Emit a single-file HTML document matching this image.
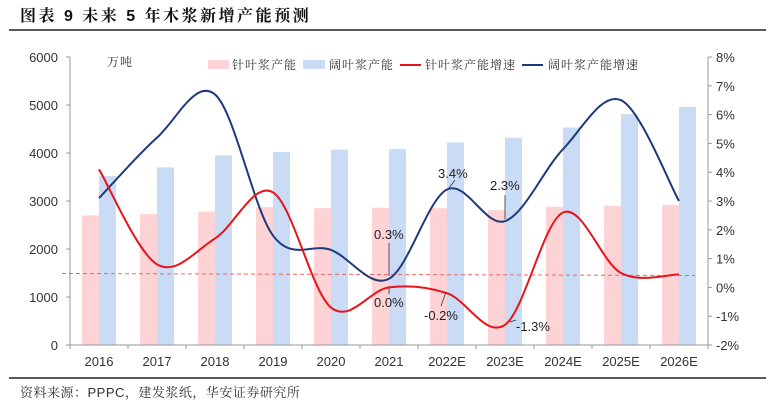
<!DOCTYPE html>
<html><head><meta charset="utf-8"><style>
body{margin:0;background:#fff;}
svg{display:block;font-family:"Liberation Sans","Noto Sans CJK SC",sans-serif;}
</style></head><body>
<svg id="s" width="776" height="408" viewBox="0 0 776 408" xmlns="http://www.w3.org/2000/svg">
<text x="20" y="21" font-size="16" font-weight="bold" letter-spacing="2.5" font-family="'Liberation Sans','Noto Serif CJK SC',serif" fill="#111">图表 9  未来 5 年木浆新增产能预测</text>
<line x1="9" y1="30" x2="766" y2="30" stroke="#222" stroke-width="1.5"/>
<line x1="9" y1="378" x2="766" y2="378" stroke="#222" stroke-width="1.5"/>
<text x="20" y="397" font-size="13" letter-spacing="0.5" fill="#333" font-family="'Liberation Sans','Noto Serif CJK SC',serif">资料来源：PPPC，建发浆纸，华安证券研究所</text>
<g id="bars"></g>
<line x1="70" y1="57" x2="70" y2="345" stroke="#999"/>
<line x1="70" y1="345" x2="708" y2="345" stroke="#999"/>
<line x1="708" y1="57" x2="708" y2="345" stroke="#999"/>
<g id="ax" font-size="13" fill="#333"></g>
<line x1="62" y1="273.5" x2="695" y2="275.5" stroke="#e86a6a" stroke-dasharray="4,3" stroke-width="1"/>
<path id="blue" fill="none" stroke="#1f3a7a" stroke-width="2"/>
<path id="red" fill="none" stroke="#e8141b" stroke-width="2"/>
<g font-size="12" fill="#333" letter-spacing="1" font-family="'Noto Serif CJK SC',serif">
<text x="107" y="66">万吨</text>
<rect x="208" y="60" width="21" height="9" fill="#fdd3d5"/><text x="232" y="69">针叶浆产能</text>
<rect x="303" y="60" width="22" height="9" fill="#c9dbf5"/><text x="329" y="69">阔叶浆产能</text>
<line x1="400" y1="65" x2="421" y2="65" stroke="#e8141b" stroke-width="2"/><text x="425" y="69">针叶浆产能增速</text>
<line x1="522" y1="65" x2="543" y2="65" stroke="#1f3a7a" stroke-width="2"/><text x="548" y="69">阔叶浆产能增速</text>
</g>
<g font-size="13" fill="#222">
<text x="374" y="239">0.3%</text>
<text x="374" y="307">0.0%</text>
<text x="424" y="320">-0.2%</text>
<text x="438" y="178">3.4%</text>
<text x="490" y="190">2.3%</text>
<text x="516" y="331">-1.3%</text>
</g>
<g stroke="#333" stroke-width="0.8">
<line x1="389" y1="243" x2="389" y2="276"/>
<line x1="389" y1="288" x2="389" y2="294"/>
<line x1="446" y1="292" x2="441" y2="306"/>
<line x1="455" y1="180" x2="449" y2="188"/>
<line x1="505" y1="195" x2="505" y2="219"/>
<line x1="510" y1="322" x2="516" y2="320"/>
</g>
</svg>
<script>
var ns="http://www.w3.org/2000/svg",s=document.getElementById('s');
function el(p,t,a,txt){var e=document.createElementNS(ns,t);for(var k in a)e.setAttribute(k,a[k]);if(txt)e.textContent=txt;p.appendChild(e);return e;}
var cats=["2016","2017","2018","2019","2020","2021","2022E","2023E","2024E","2025E","2026E"];
var pink=[2700,2730,2780,2870,2850,2860,2850,2810,2880,2900,2920];
var blu=[3520,3700,3950,4020,4070,4080,4220,4320,4530,4810,4960];
var bg=document.getElementById('bars'),ax=document.getElementById('ax');
function yl(v){return 345-v*0.048;}function yr(v){return 287.4-28.8*v;}
for(var i=0;i<11;i++){var cx=99+58*i;
el(bg,'rect',{x:cx-17,y:yl(pink[i]),width:17,height:345-yl(pink[i]),fill:'#fdd3d5'});
el(bg,'rect',{x:cx,y:yl(blu[i]),width:17,height:345-yl(blu[i]),fill:'#c9dbf5'});
el(ax,'text',{x:cx,y:366,'text-anchor':'middle'},cats[i]);}
for(var i=0;i<=11;i++)el(ax,'line',{x1:70+58*i,y1:345,x2:70+58*i,y2:349,stroke:'#999'});
for(var v=0;v<=6000;v+=1000){el(ax,'text',{x:58,y:yl(v)+5,'text-anchor':'end'},String(v));el(ax,'line',{x1:66,y1:yl(v),x2:70,y2:yl(v),stroke:'#999'});}
for(var v=-2;v<=8;v++){el(ax,'text',{x:716,y:yr(v)+5},v+'%');el(ax,'line',{x1:708,y1:yr(v),x2:712,y2:yr(v),stroke:'#999'});}
function path(vals){var p=vals.map(function(v,i){return [99+58*i,yr(v)];});var d='M'+p[0][0]+','+p[0][1];
for(var i=0;i<p.length-1;i++){var p0=p[i-1]||p[i],p1=p[i],p2=p[i+1],p3=p[i+2]||p2;
d+=' C'+(p1[0]+(p2[0]-p0[0])/6)+','+(p1[1]+(p2[1]-p0[1])/6)+' '+(p2[0]-(p3[0]-p1[0])/6)+','+(p2[1]-(p3[1]-p1[1])/6)+' '+p2[0]+','+p2[1];}return d;}
document.getElementById('blue').setAttribute('d',path([3.1,5.2,6.7,1.8,1.3,0.3,3.4,2.3,4.8,6.5,3.0]));
document.getElementById('red').setAttribute('d',path([4.1,0.8,1.7,3.3,-0.7,0.0,-0.2,-1.3,2.6,0.5,0.45]));
</script>
</body></html>
